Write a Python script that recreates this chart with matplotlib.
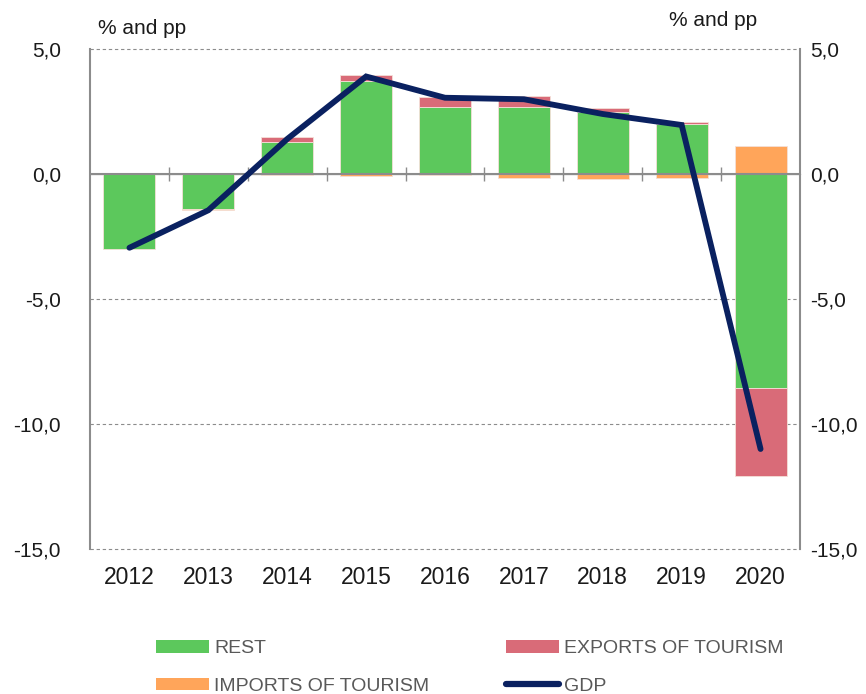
import numpy as np
import matplotlib
matplotlib.use('Agg')
import matplotlib.pyplot as plt
from matplotlib.patches import Patch
from matplotlib.lines import Line2D
from matplotlib.ticker import FuncFormatter

plt.rcParams['font.family'] = ['Liberation Sans', 'DejaVu Sans']

years = ['2012', '2013', '2014', '2015', '2016', '2017', '2018', '2019', '2020']
rest = [-3.0, -1.4, 1.3, 3.73, 2.67, 2.69, 2.49, 1.99, -8.57]
exports = [0.0, 0.0, 0.17, 0.22, 0.42, 0.44, 0.14, 0.11, -3.5]
imports = [0.05, -0.05, -0.05, -0.08, -0.05, -0.15, -0.2, -0.15, 1.12]
gdp = [-2.95, -1.45, 1.4, 3.9, 3.05, 2.99, 2.4, 1.96, -11.0]

c_rest = '#5cc85c'
c_exp = '#d96b78'
c_imp = '#ffa55a'
c_gdp = '#0a2160'

fig = plt.figure(figsize=(8.66, 6.94), dpi=100)
ax = fig.add_axes([90/866, 145/694, 710/866, 500/694])

x = np.arange(len(years))
w = 0.66
pos = np.zeros(len(years))
neg = np.zeros(len(years))
for vals, col in [(rest, c_rest), (exports, c_exp), (imports, c_imp)]:
    v = np.array(vals)
    bot = np.where(v >= 0, pos, neg)
    ax.bar(x, v, w, bottom=bot, color=col, edgecolor='#f4e0d8', linewidth=0.6, zorder=2)
    pos = pos + np.where(v >= 0, v, 0)
    neg = neg + np.where(v < 0, v, 0)

ax.plot(x, gdp, color=c_gdp, linewidth=4.2, solid_capstyle='round', solid_joinstyle='miter', zorder=4)

fmt = FuncFormatter(lambda v, p: ('%.1f' % v).replace('.', ','))
ax.set_xlim(-0.5, len(years) - 0.5)
ax.set_ylim(-15, 5)
ax.set_yticks([5, 0, -5, -10, -15])
ax.yaxis.set_major_formatter(fmt)
for yv in [5, -5, -10, -15]:
    ax.axhline(yv, color='#8c8c8c', linewidth=0.8, linestyle=(0, (3, 2.5)), zorder=1, clip_on=False)
ax.axhline(0, color='#8c8c8c', linewidth=1.5, zorder=3)

ax.set_xticks(x)
ax.set_xticklabels(years)
ax.tick_params(axis='x', length=0, pad=12, labelsize=16.5, colors='#1a1a1a')
ax.tick_params(axis='y', length=0, pad=21, labelsize=15, colors='#1a1a1a')
for s in ['top', 'bottom']:
    ax.spines[s].set_visible(False)
for s in ['left', 'right']:
    ax.spines[s].set_color('#8c8c8c')
    ax.spines[s].set_linewidth(1.5)

# right side labels
ax2 = ax.twinx()
ax2.set_ylim(-15, 5)
ax2.set_yticks([5, 0, -5, -10, -15])
ax2.yaxis.set_major_formatter(fmt)
ax2.tick_params(axis='y', length=0, pad=7, labelsize=15, colors='#1a1a1a')
for s in ax2.spines.values():
    s.set_visible(False)

# category boundary ticks on the zero line
bounds = np.arange(0.5, len(years) - 1, 1.0)
sec = ax.secondary_xaxis(0.75)
sec.set_xticks(bounds, [''] * len(bounds))
sec.tick_params(axis='x', direction='inout', length=10, width=1, colors='#8c8c8c')
sec.spines['bottom'].set_visible(False)

fig.text(98/866, 1 - 28/694, '% and pp', fontsize=15, va='center', ha='left', color='#1a1a1a')
fig.text(757/866, 1 - 20/694, '% and pp', fontsize=15, va='center', ha='right', color='#1a1a1a')

leg_kw = dict(loc='upper left', frameon=False, fontsize=14, handlelength=2.7, handleheight=0.62,
              handletextpad=0.3, labelspacing=1.05, borderaxespad=0, borderpad=0)
leg1 = fig.legend([Patch(facecolor=c_rest), Patch(facecolor=c_imp)],
                  ['REST', 'IMPORTS OF TOURISM'],
                  bbox_to_anchor=(156/866, 1 - 640/694), **leg_kw)
leg2 = fig.legend([Patch(facecolor=c_exp),
                   Line2D([], [], color=c_gdp, linewidth=4.5, solid_capstyle='round')],
                  ['EXPORTS OF TOURISM', 'GDP'],
                  bbox_to_anchor=(506/866, 1 - 640/694), **leg_kw)
for leg in [leg1, leg2]:
    for t in leg.get_texts():
        t.set_color('#595959')

fig.savefig('out.png', dpi=100)
